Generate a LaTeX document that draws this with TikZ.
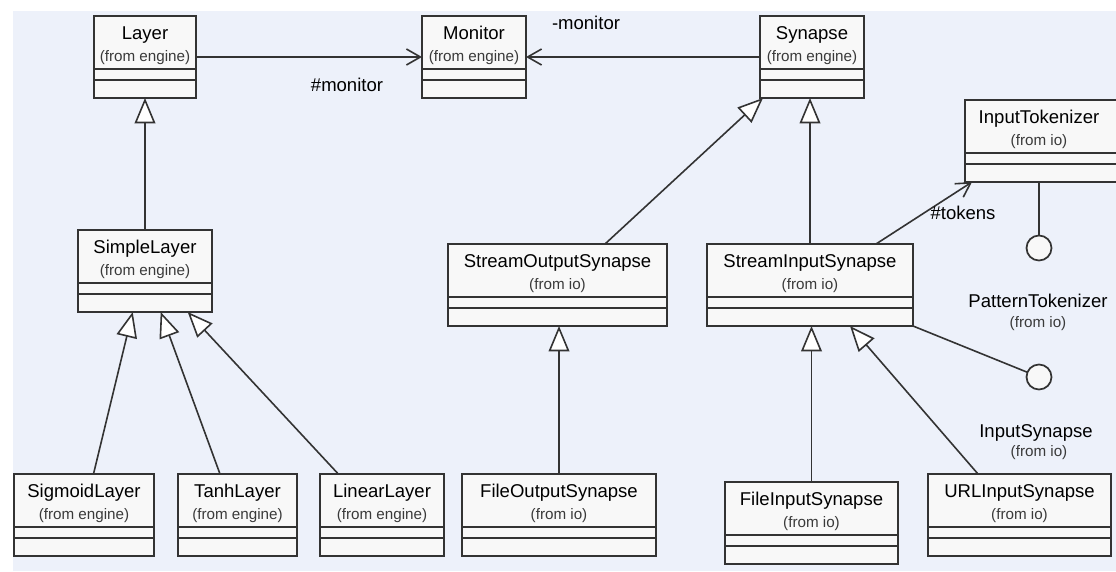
\documentclass[tikz,border=0pt]{standalone}
\usepackage{fontspec}
\setmainfont{Liberation Sans}
\usetikzlibrary{arrows.meta,calc}

% one pixel of the drawing grid
\newdimen\pxu
\pxu=0.75pt

\definecolor{bgblue}{HTML}{EDF1FA}
\definecolor{boxfill}{HTML}{F8F8F8}
\definecolor{ink}{HTML}{333333}
\definecolor{pkgink}{HTML}{3A3A3A}

\tikzset{
  classbox/.style={draw=ink, fill=boxfill, line width=1.5pt, rectangle,
    inner sep=0pt, outer sep=0pt, minimum height=82*\pxu},
  classline/.style={draw=ink, line width=1.5pt},
  classname/.style={font=\fontsize{13.9}{16}\selectfont, text=black, inner sep=0pt},
  classpkg/.style={font=\fontsize{11.4}{13}\selectfont, text=pkgink, inner sep=0pt},
  rolelabel/.style={font=\fontsize{13.9}{16}\selectfont, text=black, inner sep=0pt},
  conn/.style={draw=ink, line width=1.2pt},
  assoc/.style={conn, -{Straight Barb[length=10.5pt,width=12pt]}},
  generalize/.style={conn, -{Triangle[length=19pt,width=15.5pt,fill=white]}},
  iface/.style={circle, draw=ink, fill=boxfill, line width=1.3pt,
    minimum size=25*\pxu, inner sep=0pt, outer sep=0pt},
}

% UML class: [text x-offset] id, left, top, width, name, package
\newcommand\umlclass[7][0]{%
  \node[classbox, minimum width=#5*\pxu, anchor=north west] (#2) at (#3,#4) {};
  \draw[classline] ([yshift=-53*\pxu]#2.north west) -- ([yshift=-53*\pxu]#2.north east)
                   ([yshift=-64*\pxu]#2.north west) -- ([yshift=-64*\pxu]#2.north east);
  \node[classname, anchor=base] at ([xshift=#1*\pxu, yshift=-23*\pxu]#2.north) {#6};
  \node[classpkg, anchor=base] at ([xshift=#1*\pxu, yshift=-45*\pxu]#2.north) {(from #7)};
}

\begin{document}
\begin{tikzpicture}[x=0.75pt, y=-0.75pt]
  \clip (0,0) rectangle (1116,571);
  \fill[white] (0,0) rectangle (1116,571);
  \fill[bgblue] (13,11) rectangle (1116,571);

  % classes
  \umlclass{layer}{94}{16}{102}{Layer}{engine}
  \umlclass{monitor}{422}{16}{104}{Monitor}{engine}
  \umlclass{synapse}{760}{16}{104}{Synapse}{engine}
  \umlclass{simplelayer}{78}{230}{134}{SimpleLayer}{engine}
  \umlclass{streamout}{448}{244}{219}{StreamOutputSynapse}{io}
  \umlclass{streamin}{707}{244}{206}{StreamInputSynapse}{io}
  \umlclass[-6]{tokenizer}{965}{100}{160}{InputTokenizer}{io}
  \umlclass{sigmoid}{14}{474}{140}{SigmoidLayer}{engine}
  \umlclass{tanh}{178}{474}{119}{TanhLayer}{engine}
  \umlclass{linear}{320}{474}{124}{LinearLayer}{engine}
  \umlclass{fileout}{462}{474}{194}{FileOutputSynapse}{io}
  \umlclass{filein}{725}{482}{173}{FileInputSynapse}{io}
  \umlclass{url}{928}{474}{183}{URLInputSynapse}{io}

  % interfaces (lollipops)
  \node[iface] (patternif) at (1039,248) {};
  \node[iface] (inputif) at (1039,377) {};
  \node[classname, anchor=base] (patternname) at (1038,307) {PatternTokenizer};
  \node[classpkg, anchor=base] (patternpkg) at (1038,327) {(from io)};
  \node[classname, anchor=base] (inputname) at (1036,437) {InputSynapse};
  \node[classpkg, anchor=base] (inputpkg) at (1039,456) {(from io)};

  % associations
  \draw[assoc] (layer.east) -- (monitor.west);
  \draw[assoc] (synapse.west) -- (monitor.east);
  \draw[assoc] ([xshift=66*\pxu]streamin.north) -- ([xshift=7*\pxu]tokenizer.south west);
  \node[rolelabel] (monrole1) at (347,85) {\#monitor};
  \node[rolelabel] (monrole2) at (586,23) {-monitor};
  \node[rolelabel] (tokrole) at (963,213) {\#tokens};

  % generalizations
  \draw[generalize] (simplelayer.north) -- (layer.south);
  \draw[generalize] ([xshift=9.5*\pxu]sigmoid.north) -- ([xshift=-12.3*\pxu]simplelayer.south);
  \draw[generalize] ([xshift=-17.5*\pxu]tanh.north) -- ([xshift=15.7*\pxu]simplelayer.south);
  \draw[generalize] ([xshift=-43.7*\pxu]linear.north) -- ([xshift=42.7*\pxu]simplelayer.south);
  \draw[generalize] ([xshift=47.5*\pxu]streamout.north) -- ([xshift=-49*\pxu]synapse.south);
  \draw[generalize] (streamin.north) -- (streamin.north |- synapse.south);
  \draw[generalize] (fileout.north) -- (fileout.north |- streamout.south);
  \draw[generalize] (filein.north) -- (filein.north |- streamin.south);
  \draw[generalize] ([xshift=-41.5*\pxu]url.north) -- ([xshift=40*\pxu]streamin.south);

  % realizations
  \draw[conn] (patternif.north |- tokenizer.south) -- (patternif);
  \draw[conn] (streamin.south east) -- (inputif);
\end{tikzpicture}
\end{document}
